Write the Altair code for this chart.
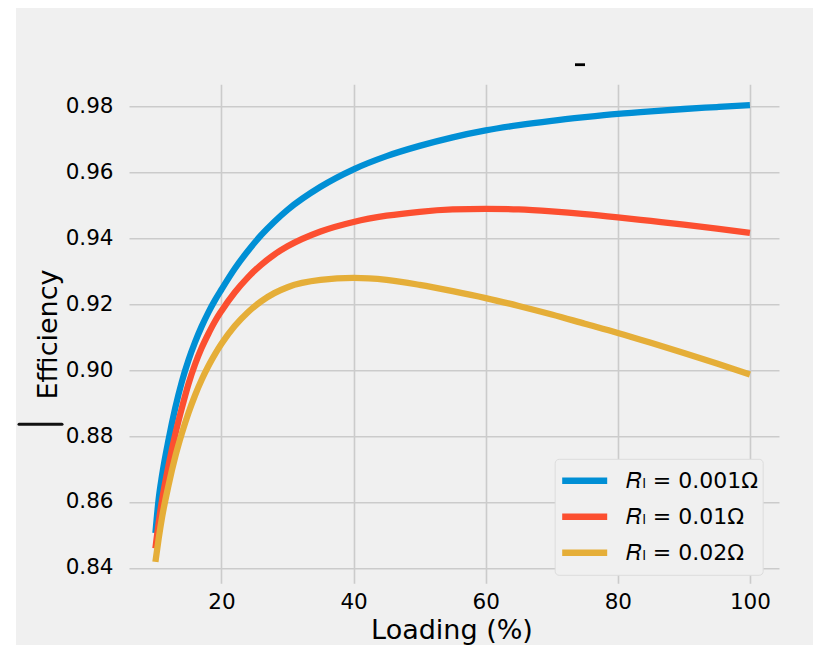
import altair as alt
import pandas as pd

# ---- data ----
loading = [10, 10.5, 11, 12, 13, 14, 15, 16, 17, 18, 19, 20, 22, 24, 26, 28, 30, 35, 40, 45, 50,
           55, 60, 65, 70, 75, 80, 85, 90, 95, 100]
eff_r0001 = [0.8506, 0.8610, 0.8680, 0.8790, 0.8885, 0.8965, 0.9030, 0.9085, 0.9133, 0.9175, 0.9212,
             0.9245, 0.9308, 0.9362, 0.9410, 0.9451, 0.9487, 0.9557, 0.9610, 0.9650, 0.9681,
             0.9707, 0.9728, 0.9744, 0.9757, 0.9768, 0.9778, 0.9786, 0.9793, 0.9799, 0.9805]
eff_r001 = [0.8459, 0.8538, 0.8605, 0.8712, 0.8805, 0.8885, 0.8958, 0.9018, 0.9068, 0.9110, 0.9148,
            0.9180, 0.9236, 0.9282, 0.9320, 0.9351, 0.9376, 0.9421, 0.9450, 0.9469, 0.9481,
            0.9488, 0.9490, 0.9488, 0.9482, 0.9474, 0.9464, 0.9453, 0.9442, 0.9430, 0.9417]
eff_r002 = [0.8418, 0.8490, 0.8553, 0.8652, 0.8737, 0.8808, 0.8870, 0.8924, 0.8971, 0.9012, 0.9048,
            0.9080, 0.9134, 0.9176, 0.9209, 0.9234, 0.9252, 0.9274, 0.9280, 0.9274, 0.9259,
            0.9240, 0.9219, 0.9195, 0.9169, 0.9141, 0.9113, 0.9083, 0.9052, 0.9020, 0.8987]
series_labels = ["\U0001D445\u2097 = 0.001\u03A9", "\U0001D445\u2097 = 0.01\u03A9", "\U0001D445\u2097 = 0.02\u03A9"]
series_colors = ["#008fd5", "#fc4f30", "#e5ae38"]
x_ticks = [20, 40, 60, 80, 100]
y_ticks = [0.84, 0.86, 0.88, 0.90, 0.92, 0.94, 0.96, 0.98]

rows = []
for lab, vals in zip(series_labels, [eff_r0001, eff_r001, eff_r002]):
    for l, v in zip(loading, vals):
        rows.append({"loading": l, "eff": v, "series": lab})
df = pd.DataFrame(rows)

FONT = "DejaVu Sans"
W, H = 650, 499

lines = alt.Chart(df).mark_line(strokeWidth=6.3, interpolate="monotone").encode(
    x=alt.X("loading:Q",
            scale=alt.Scale(domain=[6.0, 104.4], nice=False, zero=False),
            axis=alt.Axis(values=x_ticks, title="Loading (%)", labelPadding=8.5,
                          titleBaseline="alphabetic", titleY=55.6, titleX=322.5)),
    y=alt.Y("eff:Q",
            scale=alt.Scale(domain=[0.8353, 0.9868], nice=False, zero=False),
            axis=alt.Axis(values=y_ticks, format=".2f", title="Efficiency", labelPadding=16,
                          titleBaseline="alphabetic", titleX=-72.6, titleY=249.7,
                          titleAlign="center", titleAngle=270)),
    color=alt.Color("series:N",
                    scale=alt.Scale(domain=series_labels, range=series_colors),
                    legend=alt.Legend(title=None, orient="none", legendX=425.7, legendY=374.5,
                                      symbolType="stroke", symbolSize=2025, symbolStrokeWidth=6.5,
                                      clipHeight=35.7, rowPadding=0, padding=4, labelOffset=15.5,
                                      labelFontSize=22, labelFont=FONT, labelColor="#000000",
                                      labelLimit=400, fillColor="#f0f0f0", strokeColor="#dcdcdc",
                                      cornerRadius=4)),
)

one = pd.DataFrame({"k": [0]})
white_strip = alt.Chart(one).mark_rect(color="white").encode(
    x=alt.value(-121), x2=alt.value(-113), y=alt.value(-76.3), y2=alt.value(560.7))
dash = alt.Chart(one).mark_rule(color="black", strokeWidth=2.8).encode(
    x=alt.value(446), x2=alt.value(456), y=alt.value(-19.6))
stray_h = alt.Chart(one).mark_rule(color="#111111", strokeWidth=3, strokeCap="round").encode(
    x=alt.value(-110), x2=alt.value(-67), y=alt.value(340))

chart = alt.layer(white_strip, lines, dash, stray_h).properties(
    width=W, height=H,
    padding={"left": 121, "top": 76.3, "right": 34, "bottom": 61.7},
    autosize=alt.AutoSizeParams(type="none"),
    background="#f0f0f0",
).configure_view(stroke="transparent").configure_axis(
    domain=False, ticks=False, grid=True, gridColor="#cbcbcb", gridWidth=1.6,
    labelFont=FONT, labelFontSize=21.5, labelColor="#000000",
    titleFont=FONT, titleFontSize=27, titleFontWeight="normal", titleColor="#000000",
)

chart.save("out.html", embed_options={"renderer": "svg", "actions": False})
